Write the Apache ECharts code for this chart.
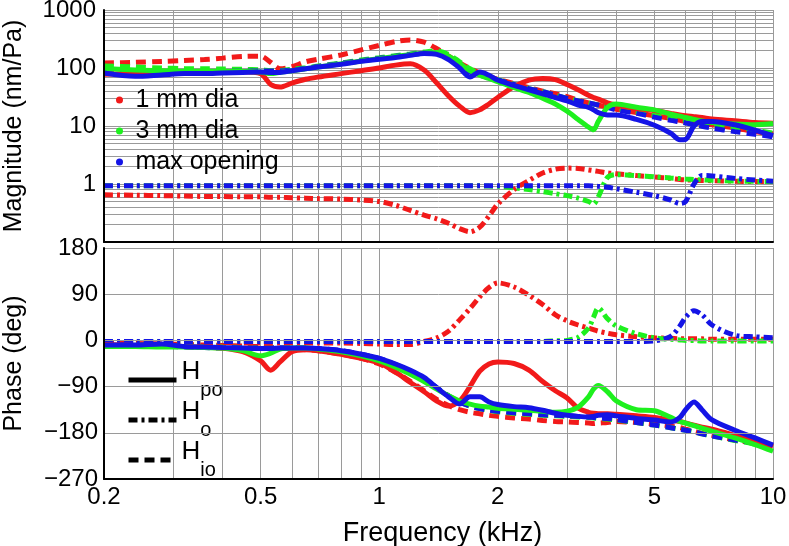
<!DOCTYPE html>
<html>
<head>
<meta charset="utf-8">
<script src="https://cdn.jsdelivr.net/npm/echarts@6/dist/echarts.min.js"></script>
<style>html,body{margin:0;padding:0;background:#fff}#c{width:789px;height:546px}</style>
</head>
<body>
<div id="c"></div>
<script>
// ---------- data ----------
const freq = [0.2,0.24,0.28,0.32,0.36,0.4,0.45,0.5,
  0.53,0.56,0.6,0.65,0.7,0.8,0.9,1.0,
  1.1,1.2,1.3,1.4,1.5,1.6,1.7,1.8,
  1.9,2.0,2.2,2.4,2.6,2.8,3.0,3.2,
  3.4,3.5,3.6,3.8,4.0,4.5,5.0,5.5,
  5.8,6.0,6.3,6.6,7.0,8.0,9.0,10];

const xGridValues = [0.3,0.4,0.5,0.6,0.7,0.8,0.9,1,2,3,4,5,6,7,8,9,10];
const xLabelValues = [0.2,0.5,1,2,5,10];
const magGridValues = [0.2,0.3,0.4,0.5,0.6,0.7,0.8,0.9,1,2,3,4,5,6,7,8,9,10,20,30,40,50,60,70,80,90,100,200,300,400,500,600,700,800,900,1000];
const magLabelValues = [1,10,100,1000];

const groups = ['1 mm dia','3 mm dia','max opening'];
const transferNames = ['H_po','H_o','H_io'];

// magnitude (nm/Pa)
const magRedPo = [78,80,80,82,84,85,86,80, 52,47,55,64,70,80,90,100, 112,118,92,55,33,22,17,19, 24,31,48,62,66,63,52,42, 34,31,29,25,23,20,18.5,16.5, 15.5,15,14.5,14,13.2,12.3,11.5,11.2];
const magRedIo = [122,125,130,135,140,148,158,160, 125,97,105,128,142,168,205,245, 285,305,278,215,160,122,98,82, 72,64,54,46,40,36,32,28, 25,24,23,21,19.5,17,15,13.5, 12.5,12,11.5,11,10.5,9.2,8,7.2];
const magRedO = [0.65,0.64,0.63,0.62,0.61,0.61,0.6,0.6, 0.59,0.59,0.58,0.57,0.56,0.55,0.53,0.5, 0.43,0.35,0.29,0.25,0.21,0.17,0.15,0.18, 0.28,0.45,0.8,1.15,1.55,1.8,1.88,1.85, 1.75,1.7,1.65,1.55,1.5,1.4,1.32,1.25, 1.2,1.18,1.16,1.15,1.14,1.12,1.1,1.1];
const magGreenPo = [98,92,90,88,88,88,87,85, 80,84,90,97,104,118,132,145, 158,170,182,185,160,120,90,75, 66,58,46,38,30,24,18,13, 9.6,8.6,12,21,24,21,19,16, 14.8,14,13,12.2,11.5,10.8,10.5,11];
const magGreenIo = [108,104,100,98,97,96,95,93, 90,90,95,101,108,122,137,150, 163,175,188,198,172,128,97,80, 70,63,52,44,39,34,30,27, 25,24,23,21.5,20,17.5,15.5,14, 13,12.5,11.8,11.3,10.8,9.5,8.5,7.5];
const magGreenO = [0.93,0.93,0.93,0.93,0.93,0.93,0.93,0.93, 0.93,0.93,0.93,0.93,0.93,0.93,0.93,0.93, 0.93,0.93,0.93,0.93,0.93,0.93,0.93,0.93, 0.92,0.91,0.86,0.8,0.74,0.68,0.63,0.57, 0.5,0.45,0.6,1.3,1.45,1.4,1.33,1.27, 1.24,1.22,1.2,1.18,1.16,1.13,1.11,1.1];
const magBluePo = [82,72,76,80,80,82,84,85, 84,84,90,97,104,116,130,142, 152,165,178,172,140,100,70,85, 75,62,50,42,36,31,27,23, 21,19,17,15.5,15.5,13,10.3,7.5, 5.8,5.9,10,12,12,10.5,8.5,6.8];
const magBlueIo = [90,86,85,86,86,87,88,89, 89,89,92,98,106,120,134,147, 160,172,182,180,150,110,85,75, 68,62,52,44,39,34,30,27, 25,24,23,21,19,16.5,14.2,12.5, 11.8,11.3,10.6,9.9,9.2,8,7.2,6.5];
const magBlueO = [0.93,0.93,0.93,0.93,0.93,0.93,0.93,0.93, 0.93,0.93,0.93,0.93,0.93,0.93,0.93,0.93, 0.93,0.93,0.93,0.93,0.93,0.93,0.93,0.93, 0.93,0.93,0.93,0.93,0.93,0.93,0.93,0.93, 0.93,0.92,0.91,0.88,0.83,0.72,0.63,0.53, 0.46,0.5,1.0,1.4,1.38,1.25,1.17,1.12];

// phase (deg)
const phRedPo = [-8,-10,-11,-12,-13,-15,-22,-40, -58,-42,-22,-18,-20,-27,-35,-44, -62,-82,-100,-118,-128,-118,-90,-60, -46,-42,-45,-58,-80,-98,-112,-132, -140,-142,-143,-143,-144,-147,-150,-155, -158,-161,-165,-169,-173,-185,-196,-207];
const phRedIo = [-5,-6,-7,-8,-9,-10,-11,-12, -14,-15,-16,-18,-20,-27,-35,-46, -62,-80,-98,-115,-127,-135,-140,-143, -146,-148,-151,-153,-156,-158,-159,-160, -161,-162,-161,-160,-158,-160,-163,-167, -170,-173,-177,-181,-185,-194,-200,-207];
const phRedO = [-4,-4,-4,-4,-4,-4,-5,-5, -5,-5,-5,-5,-5,-5,-6,-7, -8,-8,-2,5,18,40,62,85, 103,112,104,88,70,50,38,30, 24,21,18,14,11,7,5,4, 3,3,3,3,2,2,2,2];
const phGreenPo = [-12,-12,-13,-13,-14,-15,-20,-30, -25,-17,-15,-15,-17,-22,-30,-40, -52,-66,-80,-95,-108,-118,-124,-128, -130,-132,-134,-136,-138,-140,-138,-130, -110,-95,-88,-100,-118,-135,-137,-150, -158,-161,-166,-171,-177,-190,-203,-216];
const phGreenIo = [-8,-9,-10,-11,-12,-13,-14,-15, -15,-15,-15,-15,-17,-21,-28,-37, -48,-61,-76,-93,-108,-120,-128,-133, -136,-139,-142,-144,-146,-147,-148,-149, -150,-151,-152,-153,-155,-160,-165,-170, -173,-175,-178,-182,-186,-195,-202,-210];
const phGreenO = [-2,-2,-2,-2,-2,-2,-2,-2, -2,-2,-2,-2,-2,-2,-2,-2, -2,-2,-2,-2,-2,-2,-2,-2, -2,-2,-2,-2,-2,-1,0,6, 24,45,63,42,28,13,5,2, 1,0,0,-1,-1,-1,-1,-1];
const phBluePo = [-9,-9,-7,-12,-13,-14,-15,-16, -16,-15,-15,-15,-16,-20,-27,-35, -46,-58,-72,-92,-110,-124,-110,-110, -120,-125,-129,-131,-136,-142,-146,-148, -149,-148,-146,-145,-147,-152,-155,-159, -150,-135,-120,-135,-155,-175,-190,-204];
const phBlueIo = [-7,-9,-11,-13,-14,-15,-15,-15, -15,-15,-15,-15,-16,-20,-27,-35, -47,-60,-75,-92,-108,-120,-128,-133, -136,-138,-141,-143,-145,-146,-147,-148, -149,-150,-151,-152,-154,-160,-165,-170, -173,-175,-178,-182,-186,-194,-200,-207];
const phBlueO = [-2,-2,-2,-2,-2,-2,-2,-2, -2,-2,-2,-2,-2,-2,-2,-2, -2,-2,-2,-2,-2,-2,-2,-2, -2,-2,-2,-2,-2,-2,-2,-2, -2,-2,-2,-2,-2,-2,-1,8, 28,45,58,50,30,10,7,5];

// ---------- styles ----------
const FONT = 'Liberation Sans';
const colors = {'1 mm dia':'#f21a1a','3 mm dia':'#1ef01e','max opening':'#1414e6'};
const styles = {
  H_po: {type:'solid', width:5},
  H_o: {type:[9,4,3,4], width:5},
  H_io: {type:[10,6], width:5}
};
const GRID_COLOR = '#9a9a9a';

function mk(name, kind, panel, values) {
  return {
    type:'line', name:name, xAxisIndex:panel, yAxisIndex:panel,
    data: freq.map((f,i)=>[f, values[i]]),
    showSymbol:false, symbol:'none', smooth:0.3, silent:true,
    color: colors[name],
    lineStyle: {color: colors[name], type: styles[kind].type, width: styles[kind].width, cap:'butt'},
    z: 3
  };
}

// grid lines drawn as mark lines through the axes' own scales
function gridSeries(panel, xVals, yVals) {
  const d = [];
  xVals.forEach(v => d.push({xAxis:v}));
  yVals.forEach(v => d.push({yAxis:v}));
  return {
    type:'line', name:'grid'+panel, xAxisIndex:panel, yAxisIndex:panel,
    data:[[1, panel === 0 ? 1 : 0]], symbol:'none', silent:true,
    lineStyle:{opacity:0}, z:1,
    markLine:{silent:true, z:1, symbol:['none','none'], animation:false,
      label:{show:false}, emphasis:{disabled:true},
      lineStyle:{color:GRID_COLOR, width:1, type:'solid'}, data:d}
  };
}

const series = [
  gridSeries(0, xGridValues, magGridValues),
  gridSeries(1, xGridValues, []),
  mk('1 mm dia','H_io',0,magRedIo), mk('3 mm dia','H_io',0,magGreenIo), mk('max opening','H_io',0,magBlueIo),
  mk('1 mm dia','H_o',0,magRedO), mk('3 mm dia','H_o',0,magGreenO), mk('max opening','H_o',0,magBlueO),
  mk('1 mm dia','H_po',0,magRedPo), mk('3 mm dia','H_po',0,magGreenPo), mk('max opening','H_po',0,magBluePo),
  mk('1 mm dia','H_io',1,phRedIo), mk('3 mm dia','H_io',1,phGreenIo), mk('max opening','H_io',1,phBlueIo),
  mk('1 mm dia','H_o',1,phRedO), mk('3 mm dia','H_o',1,phGreenO), mk('max opening','H_o',1,phBlueO),
  mk('1 mm dia','H_po',1,phRedPo), mk('3 mm dia','H_po',1,phGreenPo), mk('max opening','H_po',1,phBluePo)
];
transferNames.forEach(n => series.push({
  type:'line', name:n, xAxisIndex:1, yAxisIndex:1, data:[], symbol:'none', showSymbol:false, color:'#000',
  lineStyle:{color:'#000', type:styles[n].type, width:styles[n].width}
}));

const blackAxis = {show:true, onZero:false, lineStyle:{color:'#000', width:2}};
const minus = v => String(v).replace('-', '\u2212');

const option = {
  animation:false,
  backgroundColor:'#fff',
  textStyle:{fontFamily:FONT},
  grid:[
    {left:104, right:16, top:10, height:232, containLabel:false, outerBoundsMode:'none'},
    {left:104, right:16, top:248, height:231, containLabel:false, outerBoundsMode:'none'}
  ],
  xAxis:[
    {type:'log', logBase:10, gridIndex:0, min:0.2, max:10, z:5,
     axisLine:blackAxis, axisTick:{show:false},
     axisLabel:{show:false}, splitLine:{show:false}, minorSplitLine:{show:false}},
    {type:'log', logBase:10, gridIndex:1, min:0.2, max:10, z:5,
     axisLine:blackAxis, axisTick:{show:false, customValues:xLabelValues},
     axisLabel:{show:true, customValues:xLabelValues, color:'#000', fontSize:24, fontFamily:FONT, margin:6},
     splitLine:{show:false}, minorSplitLine:{show:false},
     name:'Frequency (kHz)', nameLocation:'middle', nameGap:41,
     nameTextStyle:{color:'#000', fontSize:27, fontFamily:FONT, padding:[0,0,0,8]}}
  ],
  yAxis:[
    {type:'log', logBase:10, gridIndex:0, min:0.1, max:1000, z:5,
     axisLine:blackAxis, axisTick:{show:false, customValues:magLabelValues},
     axisLabel:{show:true, customValues:magLabelValues, color:'#000', fontSize:24, fontFamily:FONT, margin:8,
       formatter: v => String(v)},
     splitLine:{show:false}, minorSplitLine:{show:false},
     name:'Magnitude (nm/Pa)', nameLocation:'middle', nameGap:77,
     nameTextStyle:{color:'#000', fontSize:25, fontFamily:FONT}},
    {type:'value', gridIndex:1, min:-270, max:180, interval:90, z:5,
     axisLine:blackAxis, axisTick:{show:false},
     axisLabel:{color:'#000', fontSize:24, fontFamily:FONT, margin:6, formatter:minus},
     splitLine:{show:true, lineStyle:{color:GRID_COLOR, width:1}},
     name:'Phase (deg)', nameLocation:'middle', nameGap:77,
     nameTextStyle:{color:'#000', fontSize:25, fontFamily:FONT}}
  ],
  legend:[
    {data:groups, orient:'vertical', left:111, top:81, icon:'circle',
     itemWidth:22, itemHeight:7, itemGap:3, selectedMode:false,
     textStyle:{color:'#000', fontSize:25, fontFamily:FONT, lineHeight:28}},
    {data:transferNames, orient:'vertical', left:121, top:354,
     itemWidth:48, itemHeight:14, itemGap:-2, selectedMode:false,
     itemStyle:{opacity:0},
     lineStyle:{width:5},
     formatter: n => '{h|H}{s|' + n.split('_')[1] + '}',
     textStyle:{color:'#000', fontFamily:FONT, rich:{
       h:{fontSize:26, fontFamily:FONT, color:'#000', lineHeight:30, padding:[0,0,16,0]},
       s:{fontSize:20, fontFamily:FONT, color:'#000', lineHeight:30, padding:[20,0,0,0]}
     }}}
  ],
  series:series
};

const chart = echarts.init(document.getElementById('c'), null, {renderer:'canvas'});
chart.setOption(option);
</script>
</body>
</html>
